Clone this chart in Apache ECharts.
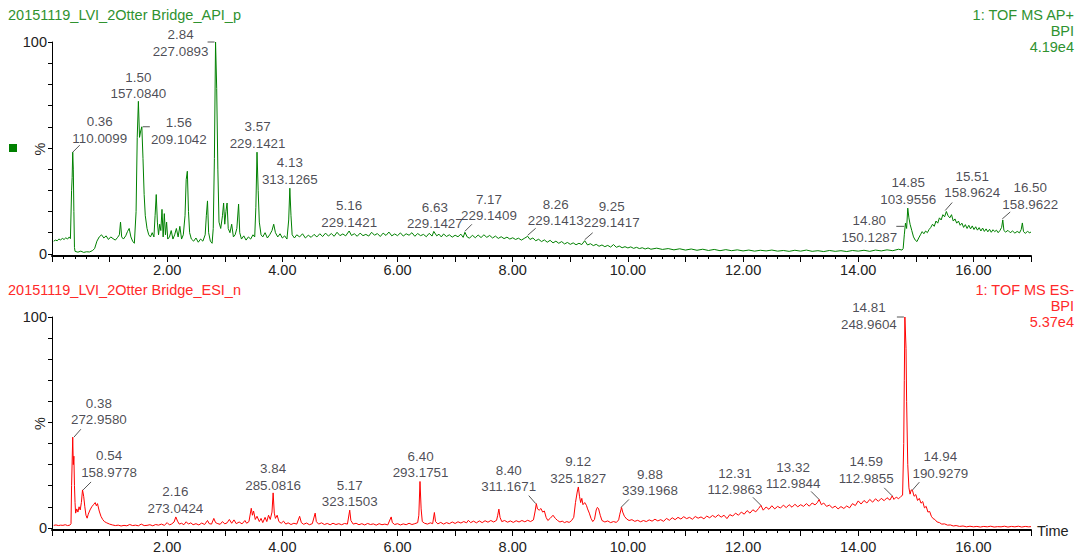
<!DOCTYPE html>
<html><head><meta charset="utf-8">
<script src="https://cdn.jsdelivr.net/npm/echarts@6/dist/echarts.min.js"></script>
<style>html,body{margin:0;padding:0;background:#fff}#c{width:1076px;height:553px}</style>
</head><body><div id="c"></div>
<script>
// ---- data: [time (min), intensity (%)] ----
const apiTrace = [[0.03,6.0],[0.06,6.5],[0.09,6.2],[0.12,7.0],[0.15,6.6],[0.18,7.3],[0.21,6.8],[0.24,7.6],[0.27,7.0],[0.30,8.0],[0.32,7.2],[0.34,30],[0.35,36],[0.36,48],[0.37,40],[0.38,20],[0.39,3],[0.40,1.2],[0.45,0.8],[0.50,1.3],[0.55,0.7],[0.60,1.0],[0.65,0.9],[0.70,1.5],[0.74,2.5],[0.78,6],[0.82,8],[0.86,9],[0.90,7.5],[0.94,8.5],[0.98,6.8],[1.02,8.0],[1.06,7.2],[1.10,6.5],[1.14,7.8],[1.17,9],[1.19,15],[1.21,8],[1.24,7.0],[1.28,8.5],[1.31,10.5],[1.34,12],[1.37,8],[1.40,6],[1.43,5],[1.46,20],[1.48,55],[1.50,72],[1.52,55],[1.54,58],[1.56,60],[1.58,45],[1.60,28],[1.62,18],[1.65,12],[1.68,9],[1.71,8],[1.74,10],[1.77,8],[1.79,18],[1.81,28],[1.83,15],[1.85,9],[1.87,14],[1.89,11],[1.91,21],[1.93,8],[1.95,19],[1.97,9],[1.99,15],[2.01,7],[2.04,8],[2.07,11],[2.10,7],[2.13,9],[2.16,12],[2.19,8],[2.22,13],[2.25,7],[2.28,9],[2.31,18],[2.33,35],[2.35,39],[2.37,20],[2.39,10],[2.42,7],[2.46,6],[2.50,7.5],[2.54,5.5],[2.58,7],[2.62,6],[2.66,9],[2.68,18],[2.70,25],[2.72,10],[2.75,6],[2.78,5],[2.80,12],[2.82,45],[2.84,100],[2.86,78],[2.88,40],[2.90,15],[2.93,12],[2.96,18],[2.98,24],[3.00,14],[3.02,20],[3.04,24],[3.06,12],[3.09,10],[3.12,14],[3.15,8],[3.18,9],[3.21,12],[3.24,23.5],[3.26,10],[3.29,7],[3.33,8.5],[3.37,6.5],[3.41,8],[3.45,7],[3.49,9],[3.52,8],[3.54,22],[3.56,48],[3.58,30],[3.60,15],[3.63,9],[3.66,8],[3.70,10],[3.74,7.5],[3.78,9],[3.82,11],[3.85,14],[3.88,10],[3.92,8],[3.96,9.5],[4.00,7.5],[4.04,8.5],[4.08,7],[4.11,16],[4.13,31],[4.15,18],[4.17,9],[4.21,7.5],[4.25,9],[4.30,8],[4.35,9.5],[4.40,7.5],[4.45,8.8],[4.50,7.8],[4.55,9.2],[4.60,8],[4.65,9.5],[4.70,8.2],[4.75,9.8],[4.80,8.4],[4.85,9.6],[4.90,8.3],[4.95,10.2],[5.00,8.6],[5.05,9.4],[5.10,8.5],[5.16,10.8],[5.20,8.7],[5.25,9.5],[5.30,8.3],[5.35,9.8],[5.40,8.6],[5.45,9.2],[5.50,8.4],[5.55,10.2],[5.60,8.8],[5.65,9.6],[5.70,8.2],[5.75,9.8],[5.80,8.7],[5.85,10.3],[5.90,8.5],[5.95,9.4],[6.00,8.6],[6.05,9.9],[6.10,8.4],[6.15,9.5],[6.20,8.8],[6.25,10.0],[6.30,8.3],[6.35,9.6],[6.40,8.6],[6.45,9.2],[6.50,8.1],[6.55,9.7],[6.60,8.4],[6.63,10.6],[6.68,8.5],[6.72,9.3],[6.76,8.0],[6.80,9.4],[6.85,8.2],[6.90,9.0],[6.95,7.9],[7.00,8.8],[7.05,8.1],[7.10,9.3],[7.14,7.8],[7.17,10.2],[7.21,8.0],[7.25,7.4],[7.30,8.8],[7.35,7.6],[7.40,8.9],[7.45,7.7],[7.50,9.0],[7.55,7.8],[7.60,8.7],[7.65,7.5],[7.70,8.4],[7.75,7.3],[7.80,8.1],[7.85,7.2],[7.90,7.9],[7.95,7.0],[8.00,7.6],[8.05,6.8],[8.10,7.4],[8.15,6.5],[8.20,7.3],[8.26,8.3],[8.30,6.8],[8.35,7.5],[8.40,6.2],[8.45,6.9],[8.50,5.8],[8.55,6.6],[8.60,5.5],[8.65,6.4],[8.70,5.2],[8.75,6.0],[8.80,5.0],[8.85,5.8],[8.90,4.7],[8.95,5.4],[9.00,4.5],[9.05,5.2],[9.10,4.3],[9.15,5.0],[9.20,4.4],[9.25,6.2],[9.30,4.2],[9.35,4.8],[9.40,3.9],[9.45,4.5],[9.50,3.6],[9.55,4.2],[9.60,3.4],[9.65,4.0],[9.70,3.2],[9.75,4.4],[9.80,3.1],[9.85,3.7],[9.90,2.9],[9.95,3.4],[10.00,2.8],[10.05,3.3],[10.10,2.6],[10.15,3.1],[10.20,2.5],[10.25,2.9],[10.30,2.3],[10.35,2.8],[10.40,2.2],[10.50,2.7],[10.60,2.1],[10.70,2.5],[10.80,1.9],[10.90,2.4],[11.00,1.8],[11.10,2.3],[11.20,1.7],[11.30,2.2],[11.40,1.6],[11.50,2.1],[11.60,1.5],[11.70,2.0],[11.80,1.5],[11.90,1.9],[12.00,1.4],[12.10,1.8],[12.20,1.3],[12.30,1.7],[12.40,1.4],[12.50,1.8],[12.60,1.3],[12.70,1.6],[12.80,1.2],[12.90,1.7],[13.00,1.3],[13.10,1.8],[13.20,1.2],[13.30,1.5],[13.40,1.1],[13.50,1.6],[13.60,1.2],[13.70,1.5],[13.80,1.1],[13.90,1.6],[14.00,1.3],[14.10,1.7],[14.20,1.2],[14.30,1.8],[14.40,1.4],[14.50,1.9],[14.60,1.5],[14.70,2.2],[14.76,1.8],[14.78,2.5],[14.80,9],[14.82,14.5],[14.84,12],[14.86,21.6],[14.88,17],[14.90,14],[14.93,11],[14.96,8],[14.99,6.5],[15.02,5.8],[15.05,7.5],[15.08,9],[15.11,10.5],[15.14,9.5],[15.17,10.8],[15.20,10],[15.23,11.5],[15.26,12.5],[15.29,14],[15.32,13],[15.35,15.5],[15.38,14.5],[15.41,17],[15.44,16],[15.47,18.5],[15.50,17.5],[15.53,20],[15.56,18],[15.59,17],[15.62,18.5],[15.65,15.5],[15.68,16.5],[15.71,14.5],[15.74,15.5],[15.77,13.5],[15.80,14.5],[15.83,12.5],[15.86,13.8],[15.89,12],[15.92,13.5],[15.95,11.8],[15.98,13.2],[16.01,11.5],[16.04,12.8],[16.07,11.2],[16.10,12.4],[16.13,10.8],[16.16,12.2],[16.19,10.6],[16.22,11.8],[16.25,10.4],[16.28,11.6],[16.31,10.2],[16.34,11.4],[16.37,10.5],[16.40,11.2],[16.43,10.0],[16.46,11.0],[16.49,12.5],[16.51,16],[16.53,11],[16.56,10.3],[16.60,11.1],[16.64,10.0],[16.68,10.8],[16.72,9.8],[16.76,10.6],[16.80,9.9],[16.83,11.5],[16.85,14.6],[16.87,10.5],[16.90,9.7],[16.94,10.6],[16.98,9.9],[17.00,10.4]];

const esiTrace = [[0.03,1.2],[0.07,1.4],[0.11,1.1],[0.15,1.3],[0.19,1.2],[0.23,1.5],[0.27,1.1],[0.31,1.3],[0.33,2],[0.34,20],[0.36,43],[0.37,30],[0.38,34],[0.39,20],[0.40,12],[0.41,7],[0.43,9],[0.45,7.5],[0.47,10],[0.49,8.5],[0.51,12],[0.53,18],[0.55,15],[0.57,10],[0.59,6],[0.61,4.6],[0.63,6.5],[0.66,8.5],[0.69,10],[0.72,11],[0.75,12],[0.77,10.5],[0.79,11.5],[0.82,8],[0.85,5.5],[0.88,4],[0.91,3],[0.95,2.4],[1.00,1.8],[1.05,1.4],[1.10,1.1],[1.15,1.3],[1.20,0.9],[1.25,1.2],[1.30,1.0],[1.35,1.6],[1.40,1.1],[1.45,1.3],[1.50,1.0],[1.55,1.8],[1.60,1.1],[1.65,1.2],[1.70,1.5],[1.75,1.0],[1.80,1.6],[1.85,1.3],[1.90,1.8],[1.95,1.2],[2.00,2.5],[2.04,1.4],[2.08,1.9],[2.12,2.8],[2.15,5.2],[2.18,3.2],[2.21,1.8],[2.25,2.2],[2.29,1.5],[2.33,2.9],[2.37,1.8],[2.41,2.4],[2.45,1.5],[2.50,2.0],[2.55,1.4],[2.60,2.3],[2.65,1.6],[2.70,3.5],[2.73,2.0],[2.77,1.8],[2.81,4.5],[2.84,2.5],[2.88,2.0],[2.92,1.7],[2.96,3.0],[3.00,1.9],[3.04,2.4],[3.08,4.0],[3.12,2.2],[3.16,3.8],[3.20,2.0],[3.25,2.8],[3.30,1.9],[3.35,3.5],[3.38,2.2],[3.42,3.0],[3.46,9.3],[3.48,6],[3.50,8],[3.53,4],[3.56,5.5],[3.60,3.0],[3.63,4.5],[3.66,2.5],[3.70,5.0],[3.73,3.0],[3.76,6.0],[3.79,4.0],[3.82,7.5],[3.84,16.6],[3.86,7],[3.88,4.5],[3.91,6.0],[3.94,3.0],[3.98,2.2],[4.02,3.2],[4.06,1.8],[4.10,2.4],[4.15,1.6],[4.20,2.2],[4.25,1.8],[4.30,5.5],[4.33,2.5],[4.37,1.7],[4.42,2.3],[4.47,1.5],[4.52,2.0],[4.57,7],[4.59,3],[4.63,1.8],[4.68,2.4],[4.73,1.6],[4.78,2.1],[4.83,1.5],[4.88,2.2],[4.93,1.6],[4.98,2.0],[5.03,1.5],[5.08,2.1],[5.13,1.8],[5.17,8.4],[5.19,3.5],[5.23,1.8],[5.28,2.2],[5.33,1.5],[5.38,2.0],[5.43,1.4],[5.48,2.1],[5.53,1.6],[5.58,1.9],[5.63,1.3],[5.68,2.0],[5.73,1.5],[5.78,1.8],[5.83,1.4],[5.89,5.2],[5.91,2.5],[5.95,1.6],[6.00,2.0],[6.05,1.4],[6.10,1.9],[6.15,1.5],[6.20,2.2],[6.25,1.6],[6.30,2.0],[6.35,2.5],[6.37,6],[6.39,22],[6.41,9],[6.43,3],[6.47,2.2],[6.52,1.8],[6.57,2.4],[6.61,2.0],[6.64,7.3],[6.66,3.0],[6.70,1.9],[6.75,2.6],[6.80,1.8],[6.85,2.5],[6.90,2.0],[6.95,2.8],[7.00,2.1],[7.05,2.9],[7.10,2.3],[7.15,3.0],[7.20,2.4],[7.23,3.6],[7.27,2.5],[7.32,3.2],[7.37,2.4],[7.42,3.3],[7.47,2.5],[7.52,3.4],[7.57,2.7],[7.62,3.5],[7.67,2.8],[7.72,3.6],[7.74,6],[7.76,8.9],[7.78,5],[7.81,3.0],[7.86,3.5],[7.91,2.7],[7.96,3.3],[8.01,2.6],[8.06,3.4],[8.11,2.8],[8.16,3.5],[8.21,2.9],[8.26,3.6],[8.31,3.0],[8.36,3.8],[8.39,8],[8.41,11.5],[8.43,9],[8.46,8.4],[8.49,9.2],[8.52,7.5],[8.55,8],[8.58,5],[8.61,3.5],[8.65,4.5],[8.70,6],[8.74,4.5],[8.78,3.5],[8.82,2.8],[8.86,3.2],[8.90,2.5],[8.94,3.0],[8.98,2.6],[9.02,3.4],[9.06,5],[9.09,12],[9.12,17],[9.14,19.4],[9.16,15],[9.18,12],[9.20,14],[9.22,11],[9.25,12],[9.28,10.7],[9.30,9],[9.33,7],[9.36,4.5],[9.39,3],[9.42,4],[9.45,8.5],[9.47,9.7],[9.49,9.2],[9.52,6],[9.55,3.5],[9.60,2.8],[9.65,3.3],[9.70,2.5],[9.75,3.0],[9.80,2.6],[9.84,3.8],[9.86,6.5],[9.89,9.7],[9.91,7.5],[9.94,5.5],[9.98,4.2],[10.02,3.5],[10.07,3.9],[10.12,3.1],[10.17,3.6],[10.22,2.9],[10.27,3.5],[10.32,3.0],[10.37,3.8],[10.42,3.2],[10.47,4.1],[10.52,3.3],[10.57,3.9],[10.62,3.1],[10.67,4.5],[10.72,3.6],[10.77,4.8],[10.82,3.9],[10.87,5.0],[10.92,4.2],[10.97,5.3],[11.02,4.4],[11.07,5.0],[11.12,4.1],[11.17,5.4],[11.22,4.6],[11.27,5.2],[11.32,4.3],[11.37,5.6],[11.42,4.8],[11.47,5.9],[11.52,5.0],[11.57,6.2],[11.62,5.1],[11.67,6.0],[11.72,4.4],[11.77,6.3],[11.82,5.6],[11.87,7.0],[11.92,6.0],[11.97,7.5],[12.02,6.5],[12.07,8.2],[12.12,7.0],[12.17,8.6],[12.22,7.6],[12.27,9.2],[12.31,10.7],[12.35,8.4],[12.40,9.9],[12.45,8.8],[12.50,10.5],[12.55,9.0],[12.60,10.2],[12.65,9.4],[12.70,10.8],[12.75,9.6],[12.80,11.0],[12.85,9.8],[12.90,11.2],[12.95,10.0],[13.00,11.0],[13.05,10.2],[13.10,11.5],[13.15,10.3],[13.20,11.8],[13.25,10.9],[13.29,12.0],[13.32,13.5],[13.36,11.0],[13.40,11.8],[13.45,10.2],[13.50,10.8],[13.55,9.5],[13.60,10.3],[13.65,9.0],[13.70,10.1],[13.75,9.2],[13.80,10.4],[13.85,9.5],[13.90,11.5],[13.95,10.6],[14.00,12.8],[14.05,11.3],[14.10,13.0],[14.15,11.8],[14.20,13.5],[14.25,12.2],[14.30,13.8],[14.35,12.6],[14.40,14.0],[14.45,12.9],[14.50,14.3],[14.55,13.2],[14.59,15.2],[14.62,13.5],[14.66,14.6],[14.70,13.8],[14.74,14.9],[14.77,15.5],[14.79,40],[14.80,70],[14.81,100],[14.82,100],[14.83,85],[14.84,60],[14.86,30],[14.88,19],[14.90,16],[14.92,18],[14.94,17.9],[14.97,15],[15.00,15.8],[15.03,13],[15.06,14],[15.09,11.7],[15.12,12.5],[15.15,9.5],[15.18,10.2],[15.21,7.5],[15.24,7.8],[15.27,5.5],[15.30,4.4],[15.33,4.0],[15.37,2.8],[15.41,2.5],[15.45,1.8],[15.50,1.9],[15.55,1.3],[15.60,1.4],[15.65,0.9],[15.70,1.1],[15.76,0.7],[15.82,0.9],[15.88,0.5],[15.94,0.8],[16.00,0.5],[16.06,0.7],[16.12,0.4],[16.18,0.7],[16.24,0.5],[16.30,0.8],[16.36,0.4],[16.42,0.6],[16.48,0.5],[16.54,0.8],[16.60,0.4],[16.66,0.7],[16.72,0.5],[16.78,0.8],[16.84,0.4],[16.90,0.7],[16.96,0.5],[17.00,0.6]];

// peak annotations
const apiPeakRt  = ['0.36','1.50','1.56','2.84','3.57','4.13','5.16','6.63','7.17','8.26','9.25','14.80','14.85','15.51','16.50'];
const apiPeakMz  = ['110.0099','157.0840','209.1042','227.0893','229.1421','313.1265','229.1421','229.1427','229.1409','229.1413','229.1417','150.1287','103.9556','158.9624','158.9622'];
const apiPeakPct = [48,72,60,100,48,31,10.8,10.6,10.2,8.3,6.2,13,21.6,20,16];

const esiPeakRt  = ['0.38','0.54','2.16','3.84','5.17','6.40','8.40','9.12','9.88','12.31','13.32','14.59','14.81','14.94'];
const esiPeakMz  = ['272.9580','158.9778','273.0424','285.0816','323.1503','293.1751','311.1671','325.1827','339.1968','112.9863','112.9844','112.9855','248.9604','190.9279'];
const esiPeakPct = [43,18,5.2,16.6,8.4,22,11.5,19.4,9.7,10.7,13.5,15.2,100,17.9];

const xTickLabels = ['2.00','4.00','6.00','8.00','10.00','12.00','14.00','16.00'];

// ---- layout (pixel offsets of label centres / leader lines relative to each peak) ----
const apiLabelOff = [[27,-22],[0,-16],[37,4],[-35,1],[0,-17],[0,-17],[0,-17],[1,-16],[24,-25],[28,-24],[27,-26],[-35,2.5],[1,-17],[27,-27],[28,-24]];
const apiLeader = [[0,0,7,-7],null,[1,0,8,0],[-8,0,-1,0],null,null,null,null,[0,-1,7,-8],[0,-1,8,-8],[0,-1,8,-8],[-8,0,0,0],null,[0,-1,7,-9],[0,-1,8,-8]];
const esiLabelOff = [[25,-25.5],[26,-26],[-1,-17],[0,-16],[0,-16.5],[0,-17],[-27,-25],[1,-17],[29,-25],[-26,-24],[-26,-24],[-26,-26],[-36,-1],[28,-25]];
const esiLeader = [[0,0,7,-8],[0,0,8,-8],null,null,null,null,[0,0,-7,-8],null,[0,0,8,-8],[0,0,-8,-8],[0,0,-8,-8],[0,0,-8,-8],[-8,0,-1,0],[0,0,7,-8]];

const FONT = "'Liberation Sans', Arial, sans-serif";
const GREEN = '#008000', GREEN_TXT = '#2f922f', RED = '#ff0000', RED_TXT = '#ff2a2a', INK = '#1c1c2a';

const chart = echarts.init(document.getElementById('c'), null, {renderer: 'svg'});

function xAxisOpt(gi, margin) {
  return {
    type: 'value', gridIndex: gi, min: 0, max: 17, interval: 1,
    axisLine: {show: true, onZero: false, lineStyle: {color: '#000', width: 2}},
    axisTick: {show: true, length: 6, interval: 0, lineStyle: {color: '#000', width: 1}},
    minorTick: {show: true, splitNumber: 5, length: 3, lineStyle: {color: '#000', width: 1}},
    splitLine: {show: false}, minorSplitLine: {show: false},
    axisLabel: {
      show: true, interval: 0, margin: margin, color: '#222', fontFamily: FONT, fontSize: 14.5,
      formatter: v => { const s = v.toFixed(2); return xTickLabels.indexOf(s) >= 0 ? s : ''; }
    }
  };
}
function yAxisOpt(gi) {
  return {
    type: 'value', gridIndex: gi, min: -1, max: 100,
    name: '%', nameLocation: 'middle', nameGap: 5, nameRotate: 90, nameMoveOverlap: false,
    nameTextStyle: {color: '#222', fontFamily: FONT, fontSize: 14.5},
    axisLine: {show: true, lineStyle: {color: '#000', width: 1}},
    axisTick: {show: true, length: 4, customValues: [0,10,20,30,40,50,60,70,80,90,100], lineStyle: {color: '#000'}},
    axisLabel: {show: true, customValues: [0,100], margin: 5, color: '#222', fontFamily: FONT, fontSize: 14.5},
    splitLine: {show: false}
  };
}
function peakSeries(gi, rts, mzs, pcts, offs) {
  return {
    type: 'scatter', xAxisIndex: gi, yAxisIndex: gi, silent: true, z: 5,
    symbol: 'circle', symbolSize: 1, itemStyle: {color: 'rgba(0,0,0,0)'},
    data: rts.map((rt, i) => ({value: [parseFloat(rt), pcts[i]], rt: rt, mz: mzs[i]})),
    label: {
      show: true, position: 'inside', align: 'center', verticalAlign: 'middle',
      formatter: p => p.data.rt + '\n' + p.data.mz,
      color: INK, fontFamily: FONT, fontSize: 13.4, lineHeight: 16.5
    },
    labelLayout: p => ({dx: offs[p.dataIndex][0], dy: offs[p.dataIndex][1]})
  };
}

const option = {
  animation: false,
  backgroundColor: '#fff',
  grid: [
    {left: 52, right: 45, top: 42, height: 214, containLabel: false, outerBoundsMode: 'none'},
    {left: 52, right: 45, top: 317, height: 213, containLabel: false, outerBoundsMode: 'none'}
  ],
  xAxis: [xAxisOpt(0, 6), xAxisOpt(1, 9)],
  yAxis: [yAxisOpt(0), yAxisOpt(1)],
  series: [
    {type: 'line', xAxisIndex: 0, yAxisIndex: 0, data: apiTrace, showSymbol: false, symbol: 'none',
     lineStyle: {color: GREEN, width: 1}, silent: true},
    {type: 'line', xAxisIndex: 1, yAxisIndex: 1, data: esiTrace, showSymbol: false, symbol: 'none',
     lineStyle: {color: RED, width: 1}, silent: true},
    peakSeries(0, apiPeakRt, apiPeakMz, apiPeakPct, apiLabelOff),
    peakSeries(1, esiPeakRt, esiPeakMz, esiPeakPct, esiLabelOff)
  ]
};
chart.setOption(option);

// headers + leader lines
const txt = (x, y, s, color, align) => ({type: 'text', x: x, y: y, silent: true,
  style: {text: s, fill: color, font: '14.5px ' + FONT, textAlign: align || 'left', textVerticalAlign: 'middle'}});
const graphics = [
  txt(8, 15, '20151119_LVI_2Otter Bridge_API_p', GREEN_TXT),
  txt(1074, 15, '1: TOF MS AP+', GREEN_TXT, 'right'),
  txt(1074, 31, 'BPI', GREEN_TXT, 'right'),
  txt(1074, 47, '4.19e4', GREEN_TXT, 'right'),
  txt(8, 290, '20151119_LVI_2Otter Bridge_ESI_n', RED_TXT),
  txt(1074, 290, '1: TOF MS ES-', RED_TXT, 'right'),
  txt(1074, 306, 'BPI', RED_TXT, 'right'),
  txt(1074, 322, '5.37e4', RED_TXT, 'right'),
  txt(1037, 531, 'Time', '#222'),
  {type: 'rect', shape: {x: 9, y: 144, width: 8, height: 8}, style: {fill: GREEN}, silent: true}
];
function addLeaders(gi, rts, pcts, leaders) {
  rts.forEach((rt, i) => {
    const l = leaders[i]; if (!l) return;
    const p = chart.convertToPixel({xAxisIndex: gi, yAxisIndex: gi}, [parseFloat(rt), pcts[i]]);
    graphics.push({type: 'line', silent: true, z: 10,
      shape: {x1: p[0] + l[0], y1: p[1] + l[1], x2: p[0] + l[2], y2: p[1] + l[3]},
      style: {stroke: '#555', lineWidth: 1}});
  });
}
addLeaders(0, apiPeakRt, apiPeakPct, apiLeader);
addLeaders(1, esiPeakRt, esiPeakPct, esiLeader);
chart.setOption({graphic: graphics});
</script>
</body></html>
